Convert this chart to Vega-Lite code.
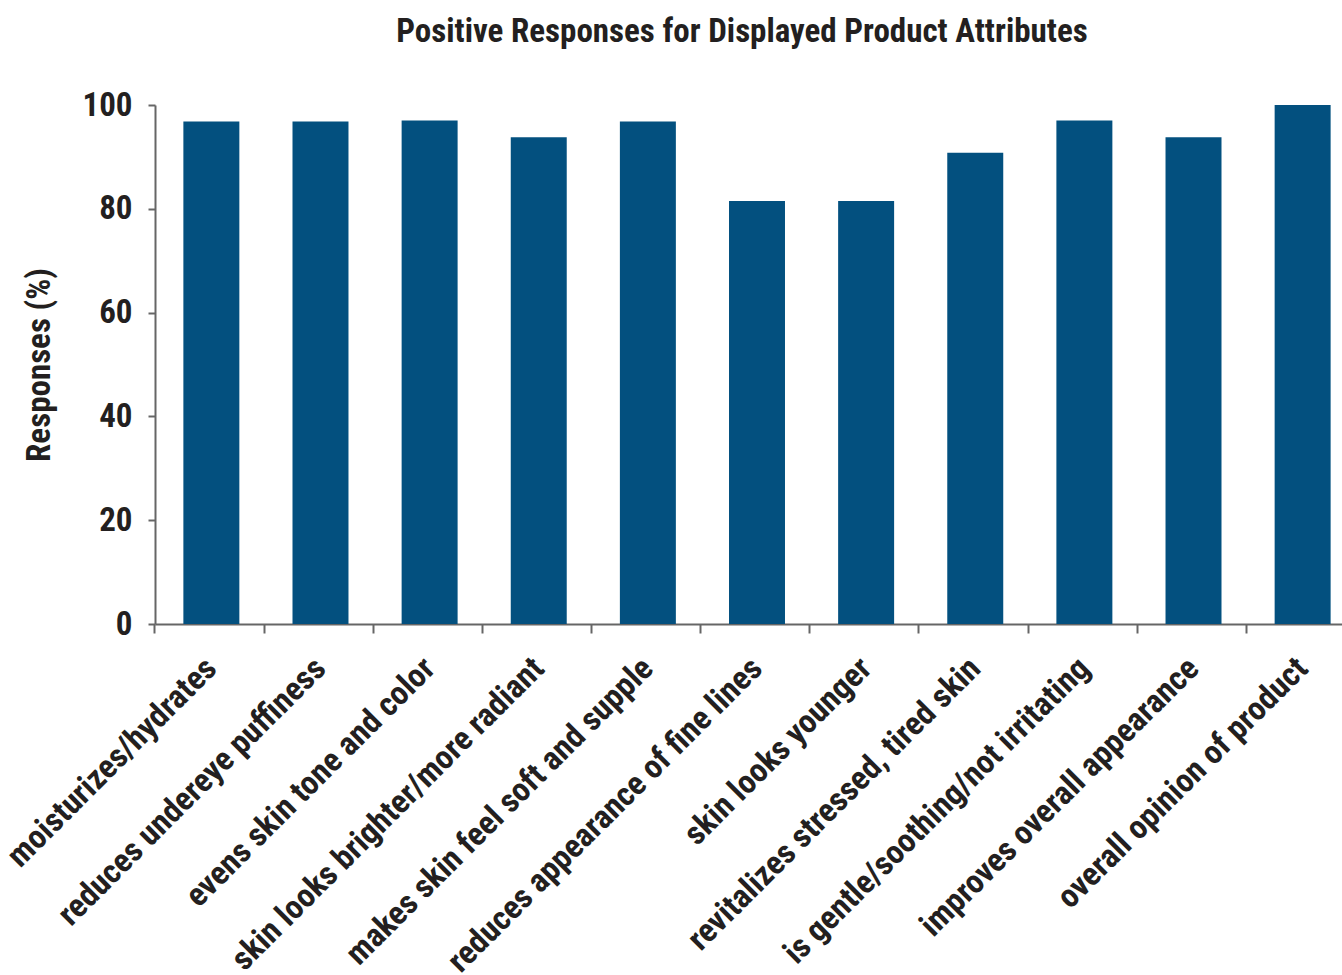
{
  "$schema": "https://vega.github.io/schema/vega-lite/v6.json",
  "autosize": {"type": "none"},
  "width": 1204,
  "height": 519,
  "padding": {"left": 155, "top": 105, "right": -17, "bottom": 351},
  "background": "white",
  "title": {
    "text": "Positive Responses for Displayed Product Attributes",
    "font": "Roboto Condensed, DejaVu Sans Condensed, sans-serif",
    "fontSize": 33,
    "fontWeight": "bold",
    "color": "#231F20",
    "anchor": "middle",
    "offset": 40,
    "dx": -15
  },
  "data": {
    "values": [
      {"attribute": "moisturizes/hydrates", "pct": 96.8},
      {"attribute": "reduces undereye puffiness", "pct": 96.8},
      {"attribute": "evens skin tone and color", "pct": 97.0},
      {"attribute": "skin looks brighter/more radiant", "pct": 93.8},
      {"attribute": "makes skin feel soft and supple", "pct": 96.8},
      {"attribute": "reduces appearance of fine lines", "pct": 81.5},
      {"attribute": "skin looks younger", "pct": 81.5},
      {"attribute": "revitalizes stressed, tired skin", "pct": 90.8},
      {"attribute": "is gentle/soothing/not irritating", "pct": 97.0},
      {"attribute": "improves overall appearance", "pct": 93.8},
      {"attribute": "overall opinion of product", "pct": 100}
    ]
  },
  "mark": {"type": "bar", "color": "#03507F"},
  "encoding": {
    "x": {
      "field": "attribute",
      "type": "nominal",
      "sort": null,
      "scale": {"paddingInner": 0.487, "paddingOuter": 0.26},
      "axis": {
        "title": null,
        "bandPosition": -0.507,
        "domainColor": "#666666",
        "domainWidth": 2,
        "tickColor": "#666666",
        "tickWidth": 2,
        "tickSize": 9,
        "labelAngle": -45,
        "labelAlign": "right",
        "labelBaseline": "middle",
        "labelPadding": 30,
        "labelFont": "Roboto Condensed, DejaVu Sans Condensed, sans-serif",
        "labelFontSize": 33,
        "labelFontWeight": "bold",
        "labelColor": "#231F20",
        "labelOverlap": false,
        "labelLimit": 0
      }
    },
    "y": {
      "field": "pct",
      "type": "quantitative",
      "scale": {"domain": [0, 100], "nice": false},
      "axis": {
        "title": "Responses (%)",
        "values": [0, 20, 40, 60, 80, 100],
        "grid": false,
        "domainColor": "#666666",
        "domainWidth": 2,
        "tickColor": "#666666",
        "tickWidth": 2,
        "tickSize": 7,
        "labelPadding": 16,
        "labelFont": "Roboto Condensed, DejaVu Sans Condensed, sans-serif",
        "labelFontSize": 33,
        "labelFontWeight": "bold",
        "labelColor": "#231F20",
        "titleFont": "Roboto Condensed, DejaVu Sans Condensed, sans-serif",
        "titleFontSize": 33,
        "titleFontWeight": "bold",
        "titleColor": "#231F20",
        "titlePadding": 25
      }
    }
  },
  "config": {"view": {"stroke": null}}
}
